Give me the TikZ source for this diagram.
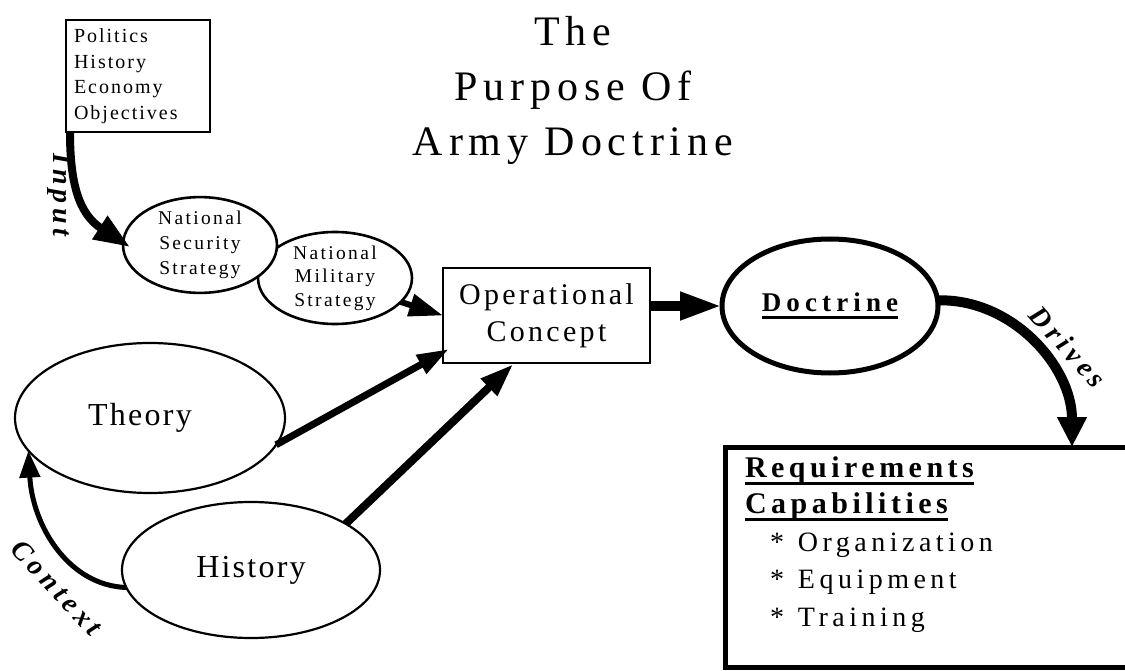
\documentclass[tikz,border=0pt]{standalone}
\usepackage{fontspec}
\setmainfont{Liberation Serif}[LetterSpace=14]
\usetikzlibrary{shapes.geometric,arrows.meta,calc}
\newcommand\ulbar[2][-7pt]{\leavevmode\setbox0=\hbox{#2}\rlap{\rule[#1]{\wd0}{2.5pt}}\box0}
\newcommand\ls[1]{\addfontfeature{LetterSpace=#1}}
\begin{document}
\begin{tikzpicture}[x=1pt,y=-1pt,
  every node/.style={inner sep=0pt, outer sep=0pt},
  bubble/.style={ellipse, draw, fill=white, align=center},
  boxnode/.style={rectangle, draw, fill=white},
  lbl/.style={font=\bfseries\itshape\fontsize{28}{32}\selectfont\ls{17}},
  thick arrow/.style={line width=#1}
]
\useasboundingbox[fill=white] (0,0) rectangle (1125,671);

% title
\node[align=center, font=\fontsize{42}{55}\selectfont] (title) at (573,90) {The\\Purpose Of\\Army Doctrine};

% input box
\node[boxnode, line width=1.6pt, text width=128pt, inner xsep=8pt, minimum height=112pt,
      align=left, font=\fontsize{20}{25.5}\selectfont\ls{10}] (pol) at (138,76)
      {Politics\\History\\Economy\\Objectives};

% strategies
\node[bubble, line width=2.6pt, minimum width=154pt, minimum height=92pt,
      font=\fontsize{19.5}{23.5}\selectfont\ls{12}] (nms) at (335,278) {National\\Military\\Strategy};
\node[bubble, line width=2.6pt, minimum width=154pt, minimum height=94pt,
      font=\fontsize{19.5}{25}\selectfont\ls{12}] (nss) at (200,245) {National\\Security\\Strategy};

% operational concept
\node[boxnode, line width=2.8pt, minimum width=207pt, minimum height=95pt, align=center,
      font=\fontsize{30}{37}\selectfont\ls{11}] (oc) at (546.5,315.5) {Operational\\Concept};

% doctrine
\node[bubble, line width=5pt, minimum width=216pt, minimum height=134pt,
      font=\bfseries\fontsize{27}{32}\selectfont\ls{19}] (doc) at (830,306) {\ulbar[-7pt]{Doctrine}};

% theory & history
\node[bubble, line width=2.2pt, minimum width=270pt, minimum height=150pt,
      font=\fontsize{32}{36}\selectfont\ls{7}] (theory) at (150,418) {Theory\hspace*{20pt}};
\node[bubble, line width=2.2pt, minimum width=258pt, minimum height=136pt,
      font=\fontsize{32}{36}\selectfont\ls{7}] (history) at (251,570) {History};

% requirements box
\node[boxnode, line width=5pt, minimum width=415pt, minimum height=220pt] (req) at (932.5,557)
  {\parbox[c][200pt][t]{375pt}{%
    \fontsize{30}{36}\selectfont\bfseries\ls{15}%
    \ulbar{Requirements}\par
    \ulbar{Capabilities}\par
    \fontsize{28}{37.5}\selectfont\mdseries\ls{16}%
    \hspace*{25pt}*\hspace*{14pt}Organization\par
    \hspace*{25pt}*\hspace*{14pt}Equipment\par
    \hspace*{25pt}*\hspace*{14pt}Training\par}};

% connectors
\draw[thick arrow=8pt, -{Triangle[length=36pt,width=26pt]}]
  ($(pol.south west)+(4,0)$) .. controls ($(pol.south west)+(4,52)$) and ($(nss.west)+(-44,-31)$) .. ($(nss.west)+(7,2)$);
\draw[thick arrow=6pt, -{Triangle[length=34pt,width=22pt]}] (nms.-20) -- (oc.west);
\draw[thick arrow=10pt, -{Triangle[length=42pt,width=26pt]}] (oc.east |- doc.west) -- (doc.west);
\draw[thick arrow=7pt, -{Triangle[length=32pt,width=20pt]}] (theory.-12) -- ($(oc.south west)+(6,-14)$);
\draw[thick arrow=8pt, -{Triangle[length=34pt,width=22pt]}] (history.26) -- ($(oc.south)+(-33,1)$);
\draw[thick arrow=10pt, -{Triangle[length=30pt,width=28pt]}]
  (doc.3) .. controls ($(doc.3)+(75,-2)$) and ($(req.north west)+(347,-80)$) .. ($(req.north west)+(347,0)$);
\draw[thick arrow=5pt, -{Triangle[length=27pt,width=20pt]}]
  (history.188) .. controls ($(history.188)+(-58,-2)$) and ($(theory.195)+(4,75)$) .. (theory.195);

% labels
\node[lbl, rotate=-90] (input) at (60,195) {Input};
\node[lbl, rotate=-48] (drives) at (1068,347) {Drives};
\node[lbl, rotate=-47] (context) at (57,588) {Context};
\end{tikzpicture}
\end{document}
